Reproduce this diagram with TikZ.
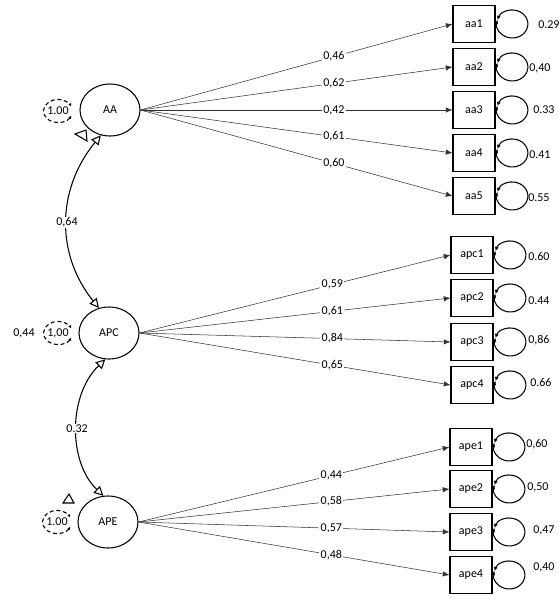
\documentclass[tikz,border=0pt]{standalone}
\usepackage{fontspec}
\setmainfont{Carlito}
\usepackage{tikz}
\usetikzlibrary{arrows.meta,shapes.geometric}

\begin{document}
\begin{tikzpicture}[x=0.75pt, y=-0.75pt,
	every node/.style={font=\fontsize{9}{10}\selectfont},
	>={Latex[length=5pt,width=4pt]},
	latent/.style={ellipse, draw, thick, minimum width=45pt, minimum height=39pt, inner sep=0pt},
	manifest/.style={rectangle, draw, thick, minimum width=31.5pt, minimum height=27.75pt, inner sep=0pt},
	varnode/.style={ellipse, minimum width=21.75pt, minimum height=17.25pt, inner sep=0pt},
	load/.style={->, draw=black!80},
	coef/.style={pos=0.62, fill=white, inner sep=1pt},
	resid/.style={{Latex[length=3pt,width=3pt]}-{Latex[length=3pt,width=3pt]}, thick},
	varloop/.style={{Latex[length=2pt,width=2.5pt]}-{Latex[length=2pt,width=2.5pt]}, densely dashed, thick},
	corr/.style={{Triangle[open,length=7pt,width=7pt]}-{Triangle[open,length=7pt,width=7pt]}, thick},
	rlab/.style={anchor=west, inner sep=0pt}]
	\useasboundingbox (0,0) rectangle (559,600);

	% latent factors
	\node[latent] (AA) at (110,110) {AA};
	\node[latent] (APC) at (109,333) {APC};
	\node[latent] (APE) at (108,522) {APE};

	% factor variances
	\node[varnode] (vAA) at (58,111) {1.00};
	\node[varnode] (vAPC) at (58,333) {1,00};
	\node[varnode] (vAPE) at (57,522) {1.00};
	\draw[varloop] ([shift={(25:14.5 and 11.5)}]vAA.center) arc[start angle=25, end angle=335, x radius=14.5, y radius=11.5];
	\draw[varloop] ([shift={(25:14.5 and 11.5)}]vAPC.center) arc[start angle=25, end angle=335, x radius=14.5, y radius=11.5];
	\draw[varloop] ([shift={(25:14.5 and 11.5)}]vAPE.center) arc[start angle=25, end angle=335, x radius=14.5, y radius=11.5];
	\node (side) at (24,333) {0,44};

	% correlations
	\draw[corr] (AA.250) .. controls (56,190) and (56,255) .. (APC.112) node[pos=0.5, fill=white, inner sep=0.5pt] {0,64};
	\draw[corr] (APC.262) .. controls (68,395) and (68,462) .. (APE.100) node[pos=0.5, fill=white, inner sep=0.5pt] {0.32};
	\draw[thick] (75,134) -- (86,130) -- (87,141) -- cycle;
	\draw[thick] (63,503) -- (69,494) -- (74,503) -- cycle;

	% indicators
	\node[manifest] (aa1) at (474,24) {aa1};
	\node[manifest] (aa2) at (474,67) {aa2};
	\node[manifest] (aa3) at (474,110) {aa3};
	\node[manifest] (aa4) at (474,153) {aa4};
	\node[manifest] (aa5) at (474,196) {aa5};
	\node[manifest] (apc1) at (472,255) {apc1};
	\node[manifest] (apc2) at (472,298) {apc2};
	\node[manifest] (apc3) at (472,342) {apc3};
	\node[manifest] (apc4) at (472,385) {apc4};
	\node[manifest] (ape1) at (471,447) {ape1};
	\node[manifest] (ape2) at (471,489) {ape2};
	\node[manifest] (ape3) at (471,532) {ape3};
	\node[manifest] (ape4) at (471,575) {ape4};

	% loadings
	\draw[load] (AA.east) -- (aa1.west) node[coef] {0,46};
	\draw[load] (AA.east) -- (aa2.west) node[coef] {0,62};
	\draw[load] (AA.east) -- (aa3.west) node[coef] {0,42};
	\draw[load] (AA.east) -- (aa4.west) node[coef] {0,61};
	\draw[load] (AA.east) -- (aa5.west) node[coef] {0,60};
	\draw[load] (APC.east) -- (apc1.west) node[coef] {0,59};
	\draw[load] (APC.east) -- (apc2.west) node[coef] {0,61};
	\draw[load] (APC.east) -- (apc3.west) node[coef] {0,84};
	\draw[load] (APC.east) -- (apc4.west) node[coef] {0,65};
	\draw[load] (APE.east) -- (ape1.west) node[coef] {0,44};
	\draw[load] (APE.east) -- (ape2.west) node[coef] {0,58};
	\draw[load] (APE.east) -- (ape3.west) node[coef] {0,57};
	\draw[load] (APE.east) -- (ape4.west) node[coef] {0,48};

	% residuals
	\draw[resid] ([shift={(2,-4.1)}]aa1.east) arc[start angle=197, end angle=-163, x radius=15.5, y radius=14];
	\draw[resid] ([shift={(2,-4.1)}]aa2.east) arc[start angle=197, end angle=-163, x radius=15.5, y radius=14];
	\draw[resid] ([shift={(2,-4.1)}]aa3.east) arc[start angle=197, end angle=-163, x radius=15.5, y radius=14];
	\draw[resid] ([shift={(2,-4.1)}]aa4.east) arc[start angle=197, end angle=-163, x radius=15.5, y radius=14];
	\draw[resid] ([shift={(2,-4.1)}]aa5.east) arc[start angle=197, end angle=-163, x radius=15.5, y radius=14];
	\draw[resid] ([shift={(2,-4.1)}]apc1.east) arc[start angle=197, end angle=-163, x radius=15.5, y radius=14];
	\draw[resid] ([shift={(2,-4.1)}]apc2.east) arc[start angle=197, end angle=-163, x radius=15.5, y radius=14];
	\draw[resid] ([shift={(2,-4.1)}]apc3.east) arc[start angle=197, end angle=-163, x radius=15.5, y radius=14];
	\draw[resid] ([shift={(2,-4.1)}]apc4.east) arc[start angle=197, end angle=-163, x radius=15.5, y radius=14];
	\draw[resid] ([shift={(2,-4.1)}]ape1.east) arc[start angle=197, end angle=-163, x radius=15.5, y radius=14];
	\draw[resid] ([shift={(2,-4.1)}]ape2.east) arc[start angle=197, end angle=-163, x radius=15.5, y radius=14];
	\draw[resid] ([shift={(2,-4.1)}]ape3.east) arc[start angle=197, end angle=-163, x radius=15.5, y radius=14];
	\draw[resid] ([shift={(2,-4.1)}]ape4.east) arc[start angle=197, end angle=-163, x radius=15.5, y radius=14];
	\node[rlab] (raa1) at (538,25) {0.29};
	\node[rlab] (raa2) at (529,68) {0,40};
	\node[rlab] (raa3) at (533,110) {0.33};
	\node[rlab] (raa4) at (529,155) {0.41};
	\node[rlab] (raa5) at (528,198) {0.55};
	\node[rlab] (rapc1) at (528,256) {0.60};
	\node[rlab] (rapc2) at (528,301) {0.44};
	\node[rlab] (rapc3) at (528,340) {0,86};
	\node[rlab] (rapc4) at (530,382) {0.66};
	\node[rlab] (rape1) at (526,444) {0,60};
	\node[rlab] (rape2) at (527,487) {0,50};
	\node[rlab] (rape3) at (533,530) {0,47};
	\node[rlab] (rape4) at (533,567) {0,40};
\end{tikzpicture}
\end{document}
